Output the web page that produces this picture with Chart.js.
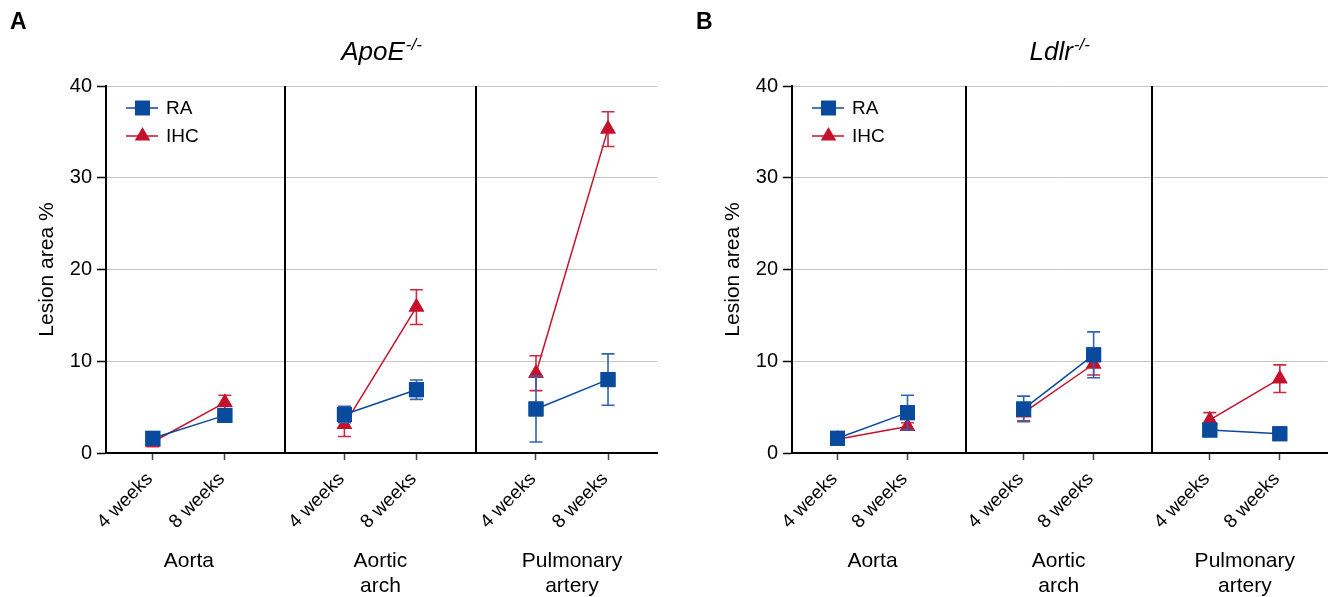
<!DOCTYPE html>
<html><head><meta charset="utf-8">
<script src="https://cdn.jsdelivr.net/npm/chart.js@4.4.0/dist/chart.umd.min.js"></script>
<style>
html,body{margin:0;padding:0;background:#fff;}
#wrap{position:relative;width:1338px;height:597px;overflow:hidden;}
.pane{position:absolute;top:0;width:669px;height:597px;}
</style></head><body>
<div id="wrap">
<div class="pane" style="left:0"><canvas id="cA" width="669" height="597"></canvas></div>
<div class="pane" style="left:669px"><canvas id="cB" width="669" height="597"></canvas></div>
</div>
<script>
// ---- data ----
const groupLabels = [['Aorta'], ['Aortic', 'arch'], ['Pulmonary', 'artery']];
const timeLabels = ['4 weeks', '8 weeks'];
const yTicks = [0, 10, 20, 30, 40];
const seriesNames = ['RA', 'IHC'];

// Panel A: ApoE-/-  (order: Aorta 4w, 8w, Arch 4w, 8w, Pulm 4w, 8w)
const apoeRA      = [1.6, 4.1, 4.2, 6.9, 4.8, 8.0];
const apoeRAErr   = [0.4, 0.4, 0.9, 1.05, 3.6, 2.8];
const apoeIHC     = [1.2, 5.5, 3.1, 15.9, 8.7, 35.3];
const apoeIHCErr  = [0.5, 0.8, 1.3, 1.9, 1.9, 1.9];

// Panel B: Ldlr-/-
const ldlrRA      = [1.6, 4.4, 4.8, 10.7, 2.5, 2.1];
const ldlrRAErr   = [0.4, 1.9, 1.4, 2.5, 0.4, 0.4];
const ldlrIHC     = [1.5, 2.9, 4.4, 9.7, 3.6, 8.1];
const ldlrIHCErr  = [0.4, 0.4, 0.9, 1.2, 0.8, 1.5];

// ---- layout / style ----
const FONT = "'Liberation Sans', Arial, Helvetica, sans-serif";
const GAP = 2.66;           // distance between groups in x units
const XMIN = -0.65, XMAX = 2 * GAP + 1 + 0.68;
const RA_COLOR = '#0a4a9c', IHC_COLOR = '#c4122d';
const RA_ERR = '#2f64b0', IHC_ERR = '#cc2a42';
const SQ = 7.5, TRI = 9;

function xPos(k) { return Math.floor(k / 2) * GAP + (k % 2); }
const tickPositions = [0, 1, 2, 3, 4, 5].map(xPos);
const dividerPositions = [1 + (GAP - 1) / 2, GAP + 1 + (GAP - 1) / 2];

function toPts(vals) { return vals.map((v, k) => ({ x: xPos(k), y: v })); }

function drawMarker(ctx, style, x, y, color) {
  ctx.fillStyle = color;
  ctx.beginPath();
  if (style === 'rect') {
    ctx.rect(x - SQ, y - SQ, 2 * SQ, 2 * SQ);
  } else {
    ctx.moveTo(x, y - TRI);
    ctx.lineTo(x + TRI * 0.866, y + TRI * 0.5);
    ctx.lineTo(x - TRI * 0.866, y + TRI * 0.5);
    ctx.closePath();
  }
  ctx.fill();
}

function makeChart(id, cfg) {
  const decor = {
    id: 'decor' + id,
    beforeDatasetsDraw(chart) {
      const { ctx, chartArea, scales } = chart;
      ctx.save();
      ctx.strokeStyle = '#000';
      ctx.lineWidth = 2;
      dividerPositions.forEach(v => {
        const px = Math.round(scales.x.getPixelForValue(v));
        ctx.beginPath();
        ctx.moveTo(px, chartArea.top);
        ctx.lineTo(px, chartArea.bottom);
        ctx.stroke();
      });
      ctx.restore();
    },
    afterDatasetDraw(chart, args) {
      const ds = chart.data.datasets[args.index];
      const meta = chart.getDatasetMeta(args.index);
      const { ctx, scales } = chart;
      ctx.save();
      ctx.strokeStyle = ds.errColor;
      ctx.lineWidth = 1.6;
      ds.errors.forEach((e, k) => {
        const v = ds.data[k].y;
        const px = meta.data[k].x;
        const yt = scales.y.getPixelForValue(v + e);
        const yb = scales.y.getPixelForValue(Math.max(0, v - e));
        ctx.beginPath();
        ctx.moveTo(px, yt); ctx.lineTo(px, yb);
        ctx.moveTo(px - 6.5, yt); ctx.lineTo(px + 6.5, yt);
        ctx.moveTo(px - 6.5, yb); ctx.lineTo(px + 6.5, yb);
        ctx.stroke();
      });
      // markers on top of their own error bars
      meta.data.forEach(pt => drawMarker(ctx, ds.pointStyle, pt.x, pt.y, ds.backgroundColor));
      ctx.restore();
    },
    afterDraw(chart) {
      const { ctx, chartArea, scales } = chart;
      const axisX = chartArea.left;
      ctx.save();
      // panel letter
      ctx.fillStyle = '#000';
      ctx.textBaseline = 'alphabetic';
      ctx.textAlign = 'left';
      ctx.font = 'bold 23px ' + FONT;
      ctx.fillText(cfg.letter, axisX - 96, 29);
      // title with superscript
      const cx = (chartArea.left + chartArea.right) / 2;
      ctx.font = 'italic 26px ' + FONT;
      const w1 = ctx.measureText(cfg.title).width;
      ctx.font = 'italic 17px ' + FONT;
      const w2 = ctx.measureText('-/-').width;
      let sx = cx - (w1 + w2 + 1) / 2;
      ctx.font = 'italic 26px ' + FONT;
      ctx.fillText(cfg.title, sx, 60);
      ctx.font = 'italic 17px ' + FONT;
      ctx.fillText('-/-', sx + w1 + 1, 50);
      // y-axis title
      ctx.save();
      ctx.translate(axisX - 59, (chartArea.top + chartArea.bottom) / 2);
      ctx.rotate(-Math.PI / 2);
      ctx.textAlign = 'center';
      ctx.textBaseline = 'middle';
      ctx.font = '21px ' + FONT;
      ctx.fillText('Lesion area %', 0, 0);
      ctx.restore();
      // group labels
      ctx.textAlign = 'center';
      ctx.textBaseline = 'alphabetic';
      ctx.font = '21px ' + FONT;
      groupLabels.forEach((lines, g) => {
        const gx = (scales.x.getPixelForValue(xPos(2 * g)) + scales.x.getPixelForValue(xPos(2 * g + 1))) / 2;
        lines.forEach((ln, j) => ctx.fillText(ln, gx, 567 + j * 25));
      });
      // legend
      ctx.textAlign = 'left';
      ctx.textBaseline = 'middle';
      ctx.font = '19px ' + FONT;
      chart.data.datasets.forEach((ds, i) => {
        const ly = 108 + i * 28;
        ctx.strokeStyle = ds.borderColor;
        ctx.lineWidth = 1.5;
        ctx.beginPath();
        ctx.moveTo(axisX + 20, ly); ctx.lineTo(axisX + 52, ly);
        ctx.stroke();
        drawMarker(ctx, ds.pointStyle, axisX + 36.5, ly, ds.backgroundColor);
        ctx.fillStyle = '#000';
        ctx.fillText(ds.label, axisX + 60, ly + 1);
      });
      ctx.restore();
    }
  };

  const mkDs = (label, vals, errs, color, errColor, style, radius) => ({
    label, data: toPts(vals), errors: errs, errColor,
    borderColor: color, backgroundColor: color, borderWidth: 1.5,
    pointStyle: style, pointRadius: radius, pointBorderWidth: 0,
    pointBackgroundColor: color,
    segment: { borderColor: c => (c.p0DataIndex % 2 === 1) ? 'rgba(0,0,0,0)' : undefined }
  });

  return new Chart(document.getElementById(id), {
    type: 'line',
    data: {
      datasets: [
        mkDs(seriesNames[0], cfg.ra, cfg.raErr, RA_COLOR, RA_ERR, 'rect', SQ * 1.414),
        mkDs(seriesNames[1], cfg.ihc, cfg.ihcErr, IHC_COLOR, IHC_ERR, 'triangle', TRI)
      ]
    },
    options: {
      responsive: false, animation: false, devicePixelRatio: 1,
      layout: { padding: { left: 0, top: 86, right: cfg.rightPad, bottom: 0 } },
      plugins: { legend: { display: false }, tooltip: { enabled: false }, title: { display: false } },
      scales: {
        x: {
          type: 'linear', min: XMIN, max: XMAX,
          afterBuildTicks: s => { s.ticks = tickPositions.map(v => ({ value: v })); },
          afterFit: s => { s.height = 144; },
          ticks: {
            autoSkip: false, minRotation: 45, maxRotation: 45, color: '#000', padding: 8, labelOffset: -3,
            font: { size: 19, family: FONT },
            callback: (v, i) => timeLabels[i % 2]
          },
          grid: { drawOnChartArea: false, drawTicks: true, tickLength: 7, tickColor: '#444', tickWidth: 1.5 },
          border: { color: '#000', width: 2 }
        },
        y: {
          min: 0, max: 40,
          afterBuildTicks: s => { s.ticks = yTicks.map(v => ({ value: v })); },
          afterFit: s => { s.width = cfg.yWidth; },
          ticks: { color: '#000', padding: 5, font: { size: 20, family: FONT } },
          grid: { color: '#c4c4c4', lineWidth: 1, tickLength: 9, tickColor: '#000', tickWidth: 1.5 },
          border: { color: '#000', width: 2 }
        }
      }
    },
    plugins: [decor]
  });
}

makeChart('cA', { letter: 'A', title: 'ApoE', ra: apoeRA, raErr: apoeRAErr, ihc: apoeIHC, ihcErr: apoeIHCErr, yWidth: 106, rightPad: 12 });
makeChart('cB', { letter: 'B', title: 'Ldlr', ra: ldlrRA, raErr: ldlrRAErr, ihc: ldlrIHC, ihcErr: ldlrIHCErr, yWidth: 123, rightPad: 9 });
</script>
</body></html>
